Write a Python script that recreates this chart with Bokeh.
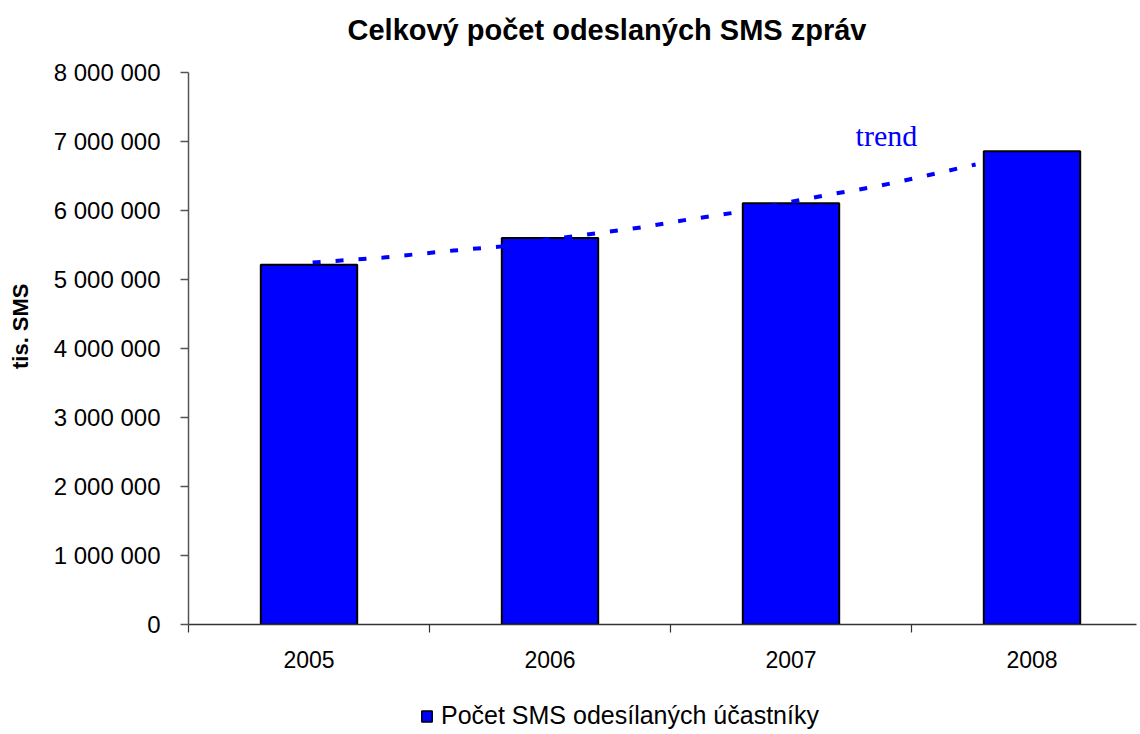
from bokeh.plotting import figure
from bokeh.layouts import column
from bokeh.models import (FixedTicker, Legend, LegendItem, Label, ColumnDataSource)
from bokeh.embed import file_html
from bokeh.resources import INLINE

# ---- data ----
years = ["2005", "2006", "2007", "2008"]
sms = [5215000, 5600000, 6105000, 6860000]
# hand-drawn trend curve (x in category units, 0.5 = centre of 2005)
trend_x = [0.515, 0.809, 1.100, 1.295, 1.490, 1.689, 1.876, 2.075, 2.270, 2.465, 2.660, 2.855, 3.046, 3.266]
trend_y = [5246000, 5319000, 5420000, 5478000, 5580000, 5667000, 5754000, 5870000,
           5971000, 6101000, 6232000, 6348000, 6493000, 6667000]
y_ticks = [0, 1000000, 2000000, 3000000, 4000000, 5000000, 6000000, 7000000, 8000000]
title_text = "Celkový počet odeslaných SMS zpráv"
y_label = "tis. SMS"
series_name = "Počet SMS odesílaných účastníky"
trend_label = "trend"
trend_label_pos = (2.768, 6850000)

FONT = "Liberation Sans"
BLUE = "#0000ff"

x_centers = [i + 0.5 for i in range(len(years))]

W = 1138
LEFT = 188
AXIS_TOP, BOTTOM_Y = 72, 624     # pixel rows of 8 000 000 and 0
FRAME_TOP = 52                   # frame reaches a little above the axis top (room for the title)
H_MAIN = 682
H_LEG = 50
y_max = y_ticks[-1] * (BOTTOM_Y - FRAME_TOP) / (BOTTOM_Y - AXIS_TOP)

p = figure(width=W, height=H_MAIN, output_backend="svg", toolbar_location=None,
           x_range=(0, (W - 2 - LEFT) / 241.0), y_range=(0, y_max),
           min_border_left=LEFT, min_border_right=2, min_border_top=FRAME_TOP,
           min_border_bottom=H_MAIN - BOTTOM_Y)
p.outline_line_color = None
p.xgrid.visible = False
p.ygrid.visible = False
p.background_fill_color = "white"
p.border_fill_color = "white"

src = ColumnDataSource(dict(x=x_centers, top=sms))
bars = p.vbar(x="x", top="top", width=0.4, source=src, fill_color=BLUE,
              line_color="black", line_width=2)

p.line(trend_x, trend_y, line_color=BLUE, line_width=4, line_dash="8 15", line_cap="butt")

p.add_layout(Label(x=trend_label_pos[0], y=trend_label_pos[1], text=trend_label,
                   text_font="Liberation Serif", text_font_size="30px", text_color=BLUE))

# title
p.title.text = title_text
p.title.text_font = FONT
p.title.text_font_size = "29px"
p.title.text_font_style = "bold"
p.title.text_color = "black"
p.title.align = "left"
p.title.offset = 159
p.title.vertical_align = "top"
p.title.standoff = 10

# y axis
ya = p.yaxis[0]
ya.bounds = (y_ticks[0], y_ticks[-1])
ya.ticker = FixedTicker(ticks=y_ticks, minor_ticks=[])
ya.major_label_overrides = {v: f"{v:,}".replace(",", " ") for v in y_ticks}
ya.major_label_text_font = FONT
ya.major_label_text_font_size = "24px"
ya.major_label_text_color = "black"
ya.major_label_standoff = 20
ya.major_tick_in = 0
ya.major_tick_out = 8
ya.major_tick_line_color = "#555555"
ya.major_tick_line_width = 1.5
ya.minor_tick_line_color = None
ya.axis_line_color = "#555555"
ya.axis_line_width = 1.5
# leading no-break spaces lift the label a little above the axis centre, as in the reference
ya.axis_label = "\u00a0" * 4 + y_label
ya.axis_label_text_font = FONT
ya.axis_label_text_font_size = "22px"
ya.axis_label_text_font_style = "bold"
ya.axis_label_text_color = "black"
ya.axis_label_standoff = 18

# x axis
xa = p.xaxis[0]
xa.ticker = FixedTicker(ticks=x_centers, minor_ticks=list(range(len(years) + 1)))
xa.major_label_overrides = {c: y for c, y in zip(x_centers, years)}
xa.major_label_text_font = FONT
xa.major_label_text_font_size = "23px"
xa.major_label_text_color = "black"
xa.major_label_standoff = 18
xa.major_tick_line_color = None
xa.minor_tick_in = 0
xa.minor_tick_out = 8
xa.minor_tick_line_color = "#333333"
xa.minor_tick_line_width = 1.2
xa.axis_line_color = "#333333"
xa.axis_line_width = 1.5

# ---- legend strip below the chart (its frame is aligned with the chart's frame) ----
lf = figure(width=W, height=H_LEG, output_backend="svg", toolbar_location=None,
            x_range=(0, 1), y_range=(10, 11), min_border=0,
            min_border_left=0, min_border_right=0, min_border_top=0, min_border_bottom=0)
lf.axis.visible = False
lf.grid.visible = False
lf.outline_line_color = None
lf.background_fill_color = "white"
lf.border_fill_color = "white"
# swatch renderer lies outside the strip's visible ranges; only its legend glyph shows
swatch = lf.vbar(x=[50], top=[1], width=0.1, fill_color=BLUE, line_color="black", line_width=1.5)

legend = Legend(items=[LegendItem(label=series_name, renderers=[swatch])],
                location=(232, 2), orientation="horizontal",
                label_text_font=FONT, label_text_font_size="25px", label_text_color="black",
                label_height=20, glyph_width=13, glyph_height=14, label_standoff=8,
                padding=0, margin=0, border_line_color=None,
                background_fill_alpha=0)
lf.add_layout(legend, "center")

layout = column(p, lf, spacing=0)
open("out.html", "w").write(file_html(layout, INLINE))
